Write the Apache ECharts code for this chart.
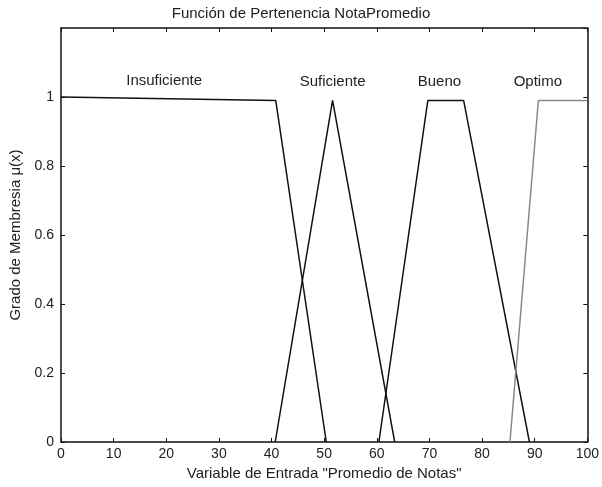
<!DOCTYPE html>
<html><head><meta charset="utf-8">
<script src="https://cdn.jsdelivr.net/npm/echarts@6/dist/echarts.min.js"></script>
<style>html,body{margin:0;padding:0;background:#fff}#c{width:602px;height:487px}</style>
</head><body><div id="c"></div>
<script>
const titleText = 'Función de Pertenencia NotaPromedio';
const xTitle = 'Variable de Entrada "Promedio de Notas"';
const yTitle = 'Grado de Membresia μ(x)';
const setNames = ['Insuficiente', 'Suficiente', 'Bueno', 'Optimo'];
const insuficiente = [[0, 1.0], [40.8, 0.99], [50.4, 0]];
const suficiente = [[40.7, 0], [51.6, 0.99], [63.4, 0]];
const bueno = [[60.4, 0], [69.7, 0.99], [76.5, 0.99], [89.0, 0]];
const optimo = [[85.3, 0], [90.7, 0.99], [100, 0.99]];
const labelPos = [[19.6, 1.047], [51.6, 1.043], [71.9, 1.043], [90.6, 1.043]];
const lineColors = ['#111', '#111', '#111', '#888'];
const seriesData = [insuficiente, suficiente, bueno, optimo];

const font = 'Liberation Sans, Arial, sans-serif';
const chart = echarts.init(document.getElementById('c'));
const axisBase = {
  axisLine: {show: true, onZero: false, lineStyle: {color: '#111', width: 1.5}},
  axisTick: {show: true, inside: true, length: 4, lineStyle: {color: '#111'}},
  splitLine: {show: false}
};
chart.setOption({
  backgroundColor: '#fff',
  animation: false,
  title: {text: titleText, left: 'center', top: 1,
    textStyle: {fontFamily: font, fontSize: 15, fontWeight: 'normal', color: '#222'}},
  grid: {left: 61, right: 14, top: 28, bottom: 45},
  xAxis: [
    Object.assign({type: 'value', min: 0, max: 100, interval: 10, position: 'bottom',
      name: xTitle, nameLocation: 'middle', nameGap: 18,
      nameTextStyle: {fontFamily: font, fontSize: 15, color: '#222'},
      axisLabel: {fontFamily: font, fontSize: 14, color: '#222', margin: 5}}, axisBase),
    Object.assign({type: 'value', min: 0, max: 100, interval: 10, position: 'top',
      axisLabel: {show: false}}, axisBase)
  ],
  yAxis: [
    Object.assign({type: 'value', min: 0, max: 1.2, interval: 0.2, position: 'left',
      name: yTitle, nameLocation: 'middle', nameGap: 38,
      nameTextStyle: {fontFamily: font, fontSize: 15, color: '#222'},
      axisLabel: {fontFamily: font, fontSize: 14, color: '#222', showMaxLabel: false, margin: 7}}, axisBase),
    Object.assign({type: 'value', min: 0, max: 1.2, interval: 0.2, position: 'right',
      axisLabel: {show: false}}, axisBase)
  ],
  series: seriesData.map((d, i) => ({
    type: 'line', name: setNames[i], data: d, symbol: 'none',
    lineStyle: {color: lineColors[i], width: 1.5},
    markPoint: {
      symbol: 'circle', symbolSize: 0,
      label: {show: true, position: 'inside', formatter: setNames[i],
        fontFamily: font, fontSize: 15, color: '#222'},
      data: [{coord: labelPos[i]}]
    }
  }))
});
</script></body></html>
